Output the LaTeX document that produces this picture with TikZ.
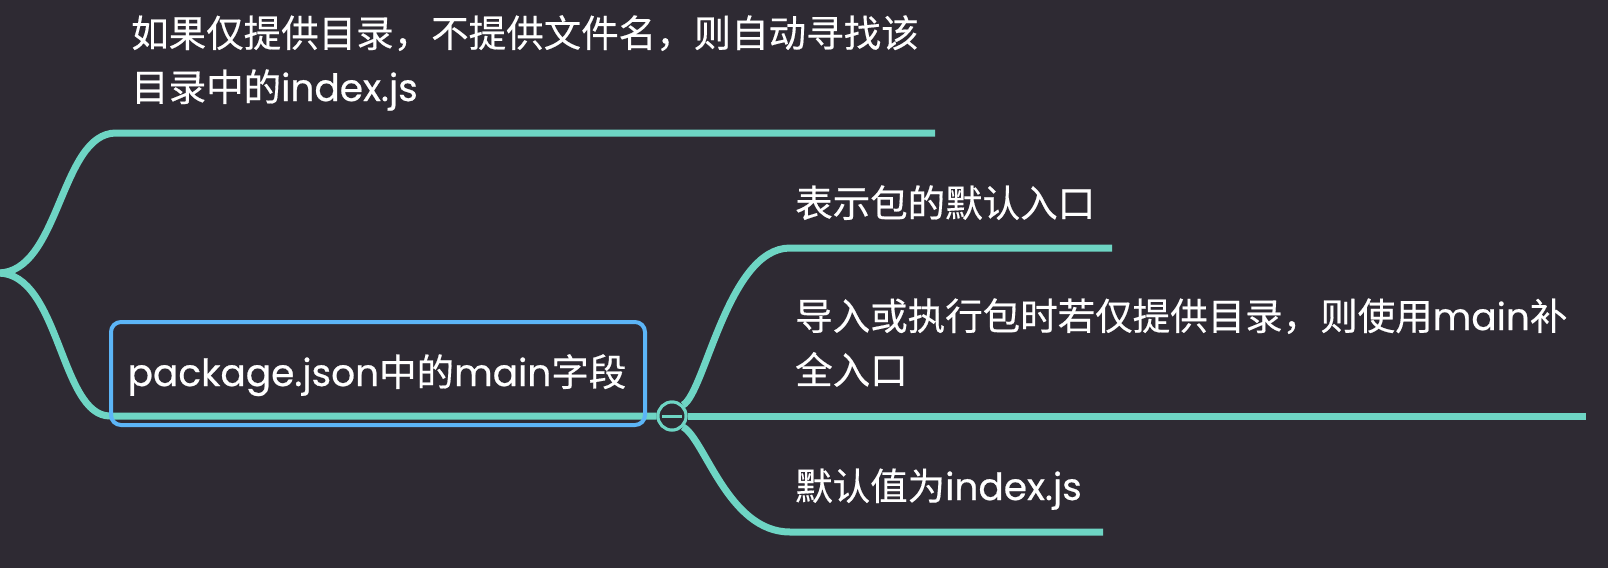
\documentclass[tikz,border=0pt]{standalone}
\usepackage{fontspec}
\setmainfont{Poppins}[FakeBold=0.6]
\newfontfamily\cjk{Noto Sans CJK SC}[FakeBold=0.4]
\newcommand\zh[1]{{\cjk #1}}
\definecolor{bgc}{HTML}{2E2A33}
\definecolor{branchc}{HTML}{6ED5C4}
\definecolor{boxc}{HTML}{5CB5F7}
\begin{document}
\begin{tikzpicture}[x=1pt,y=-1pt,
  branch/.style={draw=branchc,line width=7pt},
  lbl/.style={text=white,font=\fontsize{37.5}{54}\selectfont,inner sep=0pt,anchor=base west,align=left}]
\fill[bgc] (0,0) rectangle (1608,568);
\useasboundingbox (0,0) rectangle (1608,568);

\coordinate (root) at (-2,273);
\coordinate (t0) at (116,133);
\coordinate (t1) at (935,133);
\coordinate (b0) at (110,416);
\coordinate (u0) at (790,248);
\coordinate (u1) at (1112,248);
\coordinate (m1) at (1586,416);
\coordinate (l0) at (790,532);
\coordinate (l1) at (1103,532);

\node[circle,draw=branchc,line width=3pt,fill=bgc,minimum size=28pt,inner sep=0pt] (toggle) at (672,416) {};

% left branches
\draw[branch] (root) .. controls +(62,0) and +(-56,0) .. (t0) -- (t1);
\draw[branch] (root) .. controls +(62,0) and +(-50,0) .. (b0) -- (toggle.west);
% right branches
\draw[branch] (toggle.north east) .. controls +(22,-12) and +(-62,0) .. (u0) -- (u1);
\draw[branch] (toggle.east) -- (m1);
\draw[branch] (toggle.south east) .. controls +(22,12) and +(-62,0) .. (l0) -- (l1);

% toggle redraw on top
\node[circle,draw=branchc,line width=3pt,fill=bgc,minimum size=28pt,inner sep=0pt] at (toggle.center) {};
\draw[branchc,line width=3pt] ([xshift=-10pt]toggle.center) -- ([xshift=10pt]toggle.center);

% main box
\node[draw=boxc,line width=4pt,rounded corners=10pt,minimum width=534pt,minimum height=103pt,inner sep=0pt] (mainbox) at (378,373.5) {};
\node[lbl,anchor=base] (maintext) at (377,386) {package.json\zh{中的}main\zh{字段}};

% labels (multi-line nodes: base anchor is on the last line)
\node[lbl] (toptext) at (131,101) {\zh{如果仅提供目录，不提供文件名，则自动寻找该}\\\zh{目录中的}index.js};
\node[lbl] (entry) at (795,217) {\zh{表示包的默认入口}};
\node[lbl] (usemain) at (795,384) {\zh{导入或执行包时若仅提供目录，则使用}main\zh{补}\\\zh{全入口}};
\node[lbl] (default) at (795,500) {\zh{默认值为}index.js};
\end{tikzpicture}
\end{document}
